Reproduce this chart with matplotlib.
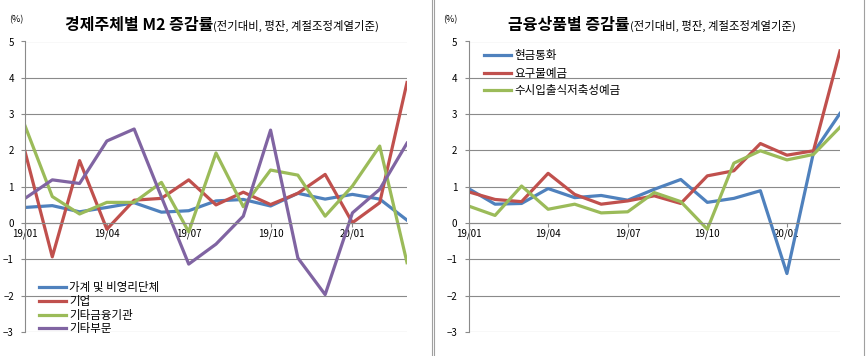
import numpy as np
import matplotlib
matplotlib.use("Agg")
import matplotlib.pyplot as plt
from matplotlib.lines import Line2D

plt.rcParams['font.family'] = ['Noto Sans CJK KR', 'DejaVu Sans']

months = ["19/01", "19/02", "19/03", "19/04", "19/05", "19/06", "19/07", "19/08",
          "19/09", "19/10", "19/11", "19/12", "20/01", "20/02", "20/03"]

# left: 경제주체별 M2 증감률
household = [0.43, 0.48, 0.31, 0.43, 0.56, 0.30, 0.34, 0.61, 0.65, 0.47, 0.82, 0.66, 0.79, 0.66, 0.08]
corporate = [1.97, -0.93, 1.72, -0.17, 0.63, 0.68, 1.19, 0.50, 0.85, 0.51, 0.82, 1.34, 0.01, 0.56, 3.87]
other_fin = [2.68, 0.73, 0.25, 0.57, 0.57, 1.12, -0.24, 1.93, 0.45, 1.46, 1.32, 0.19, 1.02, 2.12, -1.09]
other_sec = [0.68, 1.19, 1.09, 2.26, 2.59, 0.72, -1.13, -0.58, 0.19, 2.56, -0.96, -1.97, 0.28, 0.93, 2.20]

# right: 금융상품별 증감률
currency = [0.95, 0.52, 0.54, 0.95, 0.70, 0.76, 0.63, 0.93, 1.20, 0.57, 0.68, 0.89, -1.39, 1.94, 3.02]
demand = [0.86, 0.65, 0.59, 1.37, 0.79, 0.52, 0.61, 0.75, 0.54, 1.30, 1.44, 2.19, 1.87, 1.99, 4.74]
savings = [0.47, 0.21, 1.02, 0.38, 0.52, 0.28, 0.31, 0.84, 0.59, -0.17, 1.65, 1.99, 1.74, 1.89, 2.64]

BLUE, RED, GREEN, PURPLE = "#4F81BD", "#C0504D", "#9BBB59", "#8064A2"
GRID = "#8a8a8a"
W, H = 866, 356

fig = plt.figure(figsize=(W / 100, H / 100), dpi=100)


def setup(ax):
    x = np.arange(len(months))
    ax.set_xlim(0, len(months) - 1)
    ax.set_ylim(-3, 5)
    ax.set_yticks(range(-3, 6))
    ax.set_xticks(x[::3])
    ax.set_xticklabels(months[::3])
    ax.grid(axis="y", color=GRID, lw=0.8)
    ax.set_axisbelow(True)
    for s in ["top", "right"]:
        ax.spines[s].set_visible(False)
    ax.spines["left"].set_color(GRID)
    ax.spines["left"].set_linewidth(0.8)
    ax.spines["bottom"].set_position(("data", 0))
    ax.spines["bottom"].set_color(GRID)
    ax.spines["bottom"].set_linewidth(0.8)
    ax.tick_params(axis="y", length=3, width=0.8, color=GRID, pad=5, labelsize=7)
    ax.tick_params(axis="x", length=3, width=0.8, color=GRID, pad=1, labelsize=7)
    return x


axL = fig.add_axes([25 / W, 1 - 332 / H, (407 - 25) / W, (332 - 41.5) / H])
x = setup(axL)
axL.plot(x, household, color=BLUE, lw=2.3, label="가계 및 비영리단체")
axL.plot(x, corporate, color=RED, lw=2.3, label="기업")
axL.plot(x, other_fin, color=GREEN, lw=2.3, label="기타금융기관")
axL.plot(x, other_sec, color=PURPLE, lw=2.3, label="기타부문")
axL.legend(loc="upper left", bbox_to_anchor=(0.025, 0.19), frameon=False, fontsize=8.3,
           handlelength=2.3, handletextpad=0.3, labelspacing=0.05, borderaxespad=0)

axR = fig.add_axes([468.5 / W, 1 - 332 / H, (840 - 468.5) / W, (332 - 41.5) / H])
x = setup(axR)
axR.plot(x, currency, color=BLUE, lw=2.3, label="현금통화")
axR.plot(x, demand, color=RED, lw=2.3, label="요구불예금")
axR.plot(x, savings, color=GREEN, lw=2.3, label="수시입출식저축성예금")
axR.legend(loc="upper left", bbox_to_anchor=(0.03, 0.99), frameon=False, fontsize=8.3,
           handlelength=2.3, handletextpad=0.3, labelspacing=0.4, borderaxespad=0)

# titles: main part bold, the basis note in smaller type right after it
renderer = fig.canvas.get_renderer()
for x0, main in ((65, "경제주체별 M2 증감률"), (508, "금융상품별 증감률")):
    t = fig.text(x0 / W, 1 - 30 / H, main, fontsize=11.5, fontweight="bold", va="baseline")
    x1 = t.get_window_extent(renderer).x1
    fig.text(x1 / W, 1 - 30 / H, "(전기대비, 평잔, 계절조정계열기준)", fontsize=8.2, va="baseline")
fig.text(16 / W, 1 - 20 / H, "(%)", fontsize=6.5, ha="center", va="center")
fig.text(450 / W, 1 - 20 / H, "(%)", fontsize=6.5, ha="center", va="center")

# panel frame of the right chart
for xp in (432, 434, 864):
    fig.add_artist(Line2D([xp / W, xp / W], [0, 1], color="#a0a0a0", lw=0.8))

fig.savefig("out.png", dpi=100)
